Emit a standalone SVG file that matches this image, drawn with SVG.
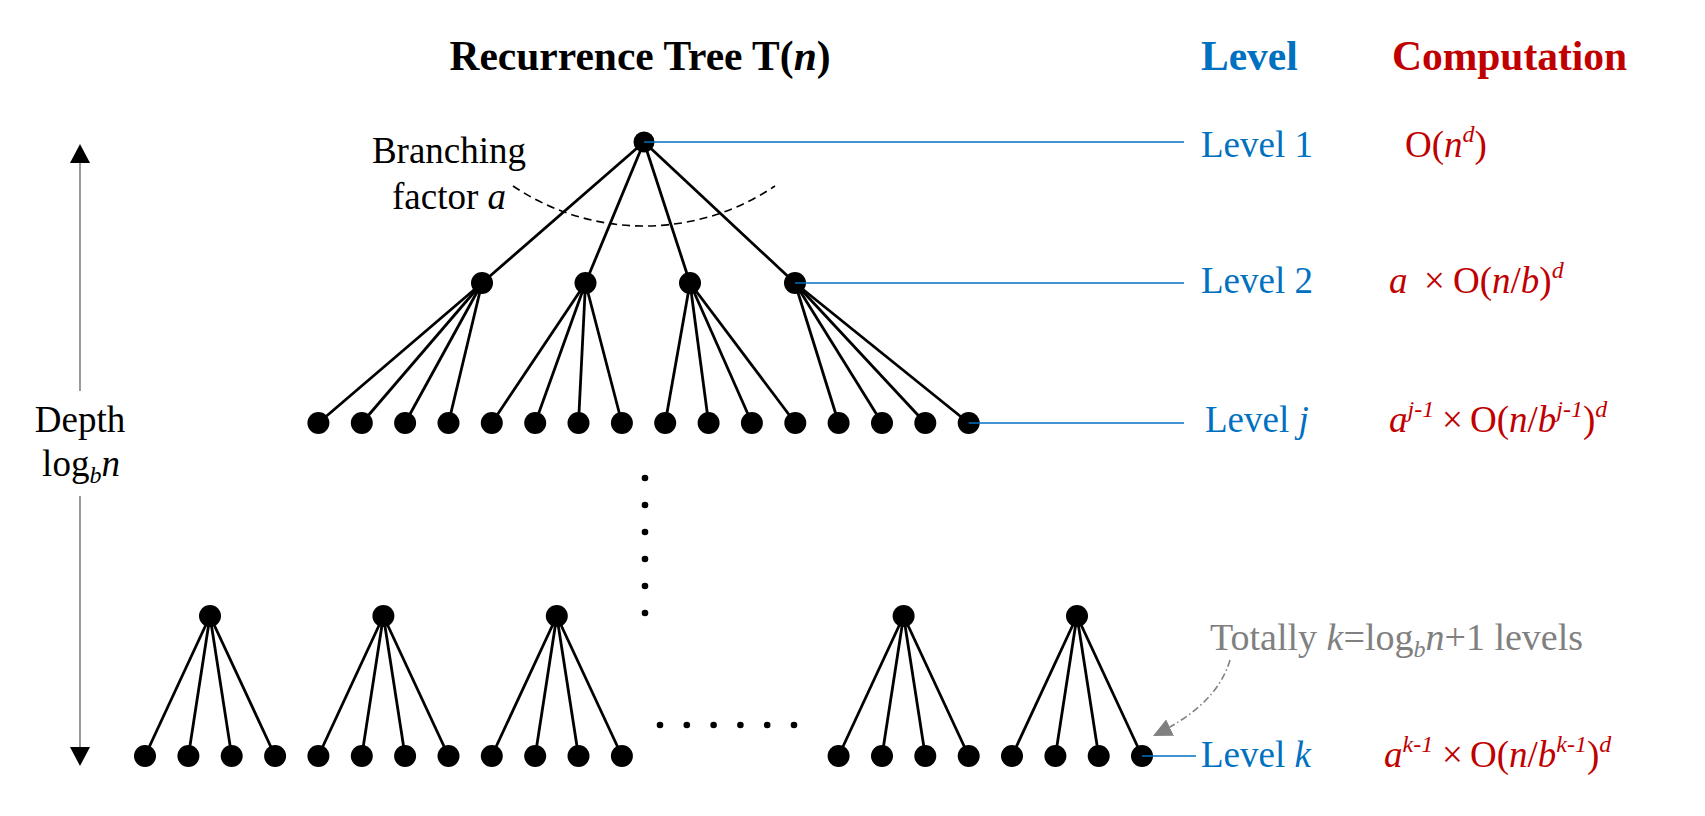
<svg xmlns="http://www.w3.org/2000/svg" width="1705" height="816" viewBox="0 0 1705 816">
<defs>
<style>
.t{font-family:"Liberation Serif","Times New Roman",serif;font-size:37px;}
.h{font-family:"Liberation Serif","Times New Roman",serif;font-size:41.5px;font-weight:bold;}
.i{font-style:italic;}
.blue{fill:#0070C0;}
.red{fill:#C00000;}
.gray{fill:#808080;}
.edge{stroke:#000;stroke-width:2.8;fill:none;}
.nd{fill:#000;}
.lvl{stroke:#0070C0;stroke-width:1.5;fill:none;}
.sup{font-size:24px;font-style:italic;}
.sub{font-size:24px;font-style:italic;}
</style>
<marker id="garrow" viewBox="0 0 20 20" refX="19" refY="10" markerWidth="20" markerHeight="20" markerUnits="userSpaceOnUse" orient="auto">
<path d="M0,1 L19,10 L0,19 Z" fill="#808080"/>
</marker>
</defs>
<rect width="1705" height="816" fill="#fff"/>

<g id="title">
<text class="h" x="640" y="70" text-anchor="middle">Recurrence Tree T(<tspan class="i">n</tspan>)</text>
</g>
<g id="header-level"><text class="h blue" x="1201" y="70">Level</text></g>
<g id="header-computation"><text class="h red" x="1392" y="70">Computation</text></g>

<g id="connectors">
<line class="edge" x1="644" y1="142" x2="482" y2="283"/>
<line class="edge" x1="644" y1="142" x2="585.5" y2="283"/>
<line class="edge" x1="644" y1="142" x2="690" y2="283"/>
<line class="edge" x1="644" y1="142" x2="795" y2="283"/>
<line class="edge" x1="482" y1="283" x2="318.4" y2="423"/>
<line class="edge" x1="482" y1="283" x2="361.8" y2="423"/>
<line class="edge" x1="482" y1="283" x2="405.1" y2="423"/>
<line class="edge" x1="482" y1="283" x2="448.5" y2="423"/>
<line class="edge" x1="585.5" y1="283" x2="491.8" y2="423"/>
<line class="edge" x1="585.5" y1="283" x2="535.2" y2="423"/>
<line class="edge" x1="585.5" y1="283" x2="578.5" y2="423"/>
<line class="edge" x1="585.5" y1="283" x2="621.9" y2="423"/>
<line class="edge" x1="690" y1="283" x2="665.2" y2="423"/>
<line class="edge" x1="690" y1="283" x2="708.6" y2="423"/>
<line class="edge" x1="690" y1="283" x2="751.9" y2="423"/>
<line class="edge" x1="690" y1="283" x2="795.3" y2="423"/>
<line class="edge" x1="795" y1="283" x2="838.6" y2="423"/>
<line class="edge" x1="795" y1="283" x2="882" y2="423"/>
<line class="edge" x1="795" y1="283" x2="925.3" y2="423"/>
<line class="edge" x1="795" y1="283" x2="968.7" y2="423"/>
<line class="edge" x1="210" y1="616" x2="145" y2="756"/>
<line class="edge" x1="210" y1="616" x2="188.4" y2="756"/>
<line class="edge" x1="210" y1="616" x2="231.7" y2="756"/>
<line class="edge" x1="210" y1="616" x2="275.1" y2="756"/>
<line class="edge" x1="383.4" y1="616" x2="318.4" y2="756"/>
<line class="edge" x1="383.4" y1="616" x2="361.8" y2="756"/>
<line class="edge" x1="383.4" y1="616" x2="405.1" y2="756"/>
<line class="edge" x1="383.4" y1="616" x2="448.5" y2="756"/>
<line class="edge" x1="556.8" y1="616" x2="491.8" y2="756"/>
<line class="edge" x1="556.8" y1="616" x2="535.2" y2="756"/>
<line class="edge" x1="556.8" y1="616" x2="578.5" y2="756"/>
<line class="edge" x1="556.8" y1="616" x2="621.9" y2="756"/>
<line class="edge" x1="903.6" y1="616" x2="838.6" y2="756"/>
<line class="edge" x1="903.6" y1="616" x2="882" y2="756"/>
<line class="edge" x1="903.6" y1="616" x2="925.3" y2="756"/>
<line class="edge" x1="903.6" y1="616" x2="968.7" y2="756"/>
<line class="edge" x1="1077" y1="616" x2="1012" y2="756"/>
<line class="edge" x1="1077" y1="616" x2="1055.4" y2="756"/>
<line class="edge" x1="1077" y1="616" x2="1098.7" y2="756"/>
<line class="edge" x1="1077" y1="616" x2="1142" y2="756"/>
</g>

<g id="nodes">
<g id="n-root"><circle class="nd" cx="644" cy="142" r="10.5"/></g>
<g id="n-l2-1"><circle class="nd" cx="482" cy="283" r="11"/></g>
<g id="n-l2-2"><circle class="nd" cx="585.5" cy="283" r="11"/></g>
<g id="n-l2-3"><circle class="nd" cx="690" cy="283" r="11"/></g>
<g id="n-l2-4"><circle class="nd" cx="795" cy="283" r="11"/></g>
<g id="n-lj-1"><circle class="nd" cx="318.4" cy="423" r="11"/></g>
<g id="n-lj-2"><circle class="nd" cx="361.8" cy="423" r="11"/></g>
<g id="n-lj-3"><circle class="nd" cx="405.1" cy="423" r="11"/></g>
<g id="n-lj-4"><circle class="nd" cx="448.5" cy="423" r="11"/></g>
<g id="n-lj-5"><circle class="nd" cx="491.8" cy="423" r="11"/></g>
<g id="n-lj-6"><circle class="nd" cx="535.2" cy="423" r="11"/></g>
<g id="n-lj-7"><circle class="nd" cx="578.5" cy="423" r="11"/></g>
<g id="n-lj-8"><circle class="nd" cx="621.9" cy="423" r="11"/></g>
<g id="n-lj-9"><circle class="nd" cx="665.2" cy="423" r="11"/></g>
<g id="n-lj-10"><circle class="nd" cx="708.6" cy="423" r="11"/></g>
<g id="n-lj-11"><circle class="nd" cx="751.9" cy="423" r="11"/></g>
<g id="n-lj-12"><circle class="nd" cx="795.3" cy="423" r="11"/></g>
<g id="n-lj-13"><circle class="nd" cx="838.6" cy="423" r="11"/></g>
<g id="n-lj-14"><circle class="nd" cx="882" cy="423" r="11"/></g>
<g id="n-lj-15"><circle class="nd" cx="925.3" cy="423" r="11"/></g>
<g id="n-lj-16"><circle class="nd" cx="968.7" cy="423" r="11"/></g>
<g id="n-b-r1"><circle class="nd" cx="210" cy="616" r="11"/></g>
<g id="n-b-r2"><circle class="nd" cx="383.4" cy="616" r="11"/></g>
<g id="n-b-r3"><circle class="nd" cx="556.8" cy="616" r="11"/></g>
<g id="n-b-r4"><circle class="nd" cx="903.6" cy="616" r="11"/></g>
<g id="n-b-r5"><circle class="nd" cx="1077" cy="616" r="11"/></g>
<g id="n-lk-1"><circle class="nd" cx="145" cy="756" r="11"/></g>
<g id="n-lk-2"><circle class="nd" cx="188.4" cy="756" r="11"/></g>
<g id="n-lk-3"><circle class="nd" cx="231.7" cy="756" r="11"/></g>
<g id="n-lk-4"><circle class="nd" cx="275.1" cy="756" r="11"/></g>
<g id="n-lk-5"><circle class="nd" cx="318.4" cy="756" r="11"/></g>
<g id="n-lk-6"><circle class="nd" cx="361.8" cy="756" r="11"/></g>
<g id="n-lk-7"><circle class="nd" cx="405.1" cy="756" r="11"/></g>
<g id="n-lk-8"><circle class="nd" cx="448.5" cy="756" r="11"/></g>
<g id="n-lk-9"><circle class="nd" cx="491.8" cy="756" r="11"/></g>
<g id="n-lk-10"><circle class="nd" cx="535.2" cy="756" r="11"/></g>
<g id="n-lk-11"><circle class="nd" cx="578.5" cy="756" r="11"/></g>
<g id="n-lk-12"><circle class="nd" cx="621.9" cy="756" r="11"/></g>
<g id="n-lk-13"><circle class="nd" cx="838.6" cy="756" r="11"/></g>
<g id="n-lk-14"><circle class="nd" cx="882" cy="756" r="11"/></g>
<g id="n-lk-15"><circle class="nd" cx="925.3" cy="756" r="11"/></g>
<g id="n-lk-16"><circle class="nd" cx="968.7" cy="756" r="11"/></g>
<g id="n-lk-17"><circle class="nd" cx="1012" cy="756" r="11"/></g>
<g id="n-lk-18"><circle class="nd" cx="1055.4" cy="756" r="11"/></g>
<g id="n-lk-19"><circle class="nd" cx="1098.7" cy="756" r="11"/></g>
<g id="n-lk-20"><circle class="nd" cx="1142" cy="756" r="11"/></g>
</g>

<g id="ellipsis">
<circle class="nd" cx="645" cy="478" r="3.3"/>
<circle class="nd" cx="645" cy="505" r="3.3"/>
<circle class="nd" cx="645" cy="532" r="3.3"/>
<circle class="nd" cx="645" cy="559" r="3.3"/>
<circle class="nd" cx="645" cy="586" r="3.3"/>
<circle class="nd" cx="645" cy="613" r="3.3"/>
<circle class="nd" cx="660" cy="725" r="3.3"/>
<circle class="nd" cx="686.8" cy="725" r="3.3"/>
<circle class="nd" cx="713.6" cy="725" r="3.3"/>
<circle class="nd" cx="740.4" cy="725" r="3.3"/>
<circle class="nd" cx="767.2" cy="725" r="3.3"/>
<circle class="nd" cx="794" cy="725" r="3.3"/>
</g>

<g id="level-lines">
<line class="lvl" x1="644" y1="142" x2="1184" y2="142"/>
<line class="lvl" x1="795" y1="283" x2="1184" y2="283"/>
<line class="lvl" x1="968.7" y1="423" x2="1184" y2="423"/>
<line class="lvl" x1="1142" y1="756" x2="1196" y2="756"/>
</g>

<g id="branching">
<path d="M513,186 A234.5,234.5 0 0 0 775,186" fill="none" stroke="#000" stroke-width="1.6" stroke-dasharray="8 5"/>
<text class="t" x="449" y="163" text-anchor="middle">Branching</text>
<text class="t" x="449" y="209" text-anchor="middle">factor <tspan class="i">a</tspan></text>
</g>

<g id="depth">
<line x1="80" y1="162" x2="80" y2="391" stroke="#808080" stroke-width="1.6"/>
<line x1="80" y1="496" x2="80" y2="748" stroke="#808080" stroke-width="1.6"/>
<path d="M80,144 L70,163 L90,163 Z" fill="#000"/>
<path d="M80,766 L70,747 L90,747 Z" fill="#000"/>
<text class="t" x="80" y="432" text-anchor="middle">Depth</text>
<text class="t" x="81" y="476" text-anchor="middle">log<tspan class="sub" dy="7">b</tspan><tspan class="i" dy="-7">n</tspan></text>
</g>

<g id="level-1"><text class="t blue" x="1201" y="157">Level 1</text></g>
<g id="level-2"><text class="t blue" x="1201" y="293">Level 2</text></g>
<g id="level-j"><text class="t blue" x="1205" y="432">Level <tspan class="i">j</tspan></text></g>
<g id="level-k"><text class="t blue" x="1201" y="767">Level <tspan class="i">k</tspan></text></g>

<g id="comp-1"><text class="t red" x="1405" y="157">O(<tspan class="i">n</tspan><tspan class="sup" dy="-15">d</tspan><tspan dy="15">)</tspan></text></g>
<g id="comp-2"><text class="t red" x="1389" y="293"><tspan class="i">a</tspan><tspan x="1424">×</tspan><tspan x="1453">O(</tspan><tspan class="i">n</tspan>/<tspan class="i">b</tspan>)<tspan class="sup" dy="-15">d</tspan></text></g>
<g id="comp-j"><text class="t red" x="1389" y="432"><tspan class="i">a</tspan><tspan class="sup" dy="-15">j-1</tspan><tspan dy="15" x="1442">×</tspan><tspan x="1470">O(</tspan><tspan class="i">n</tspan>/<tspan class="i">b</tspan><tspan class="sup" dy="-15">j-1</tspan><tspan dy="15">)</tspan><tspan class="sup" dy="-15">d</tspan></text></g>
<g id="comp-k"><text class="t red" x="1384" y="767"><tspan class="i">a</tspan><tspan class="sup" dy="-15">k-1</tspan><tspan dy="15" x="1442">×</tspan><tspan x="1470">O(</tspan><tspan class="i">n</tspan>/<tspan class="i">b</tspan><tspan class="sup" dy="-15">k-1</tspan><tspan dy="15">)</tspan><tspan class="sup" dy="-15">d</tspan></text></g>

<g id="total-note">
<text class="t gray" x="1210" y="650" style="font-size:38px">Totally <tspan class="i">k</tspan>=log<tspan class="sub" dy="7">b</tspan><tspan class="i" dy="-7">n</tspan>+1 levels</text>
<path d="M1230,660 C1221,690 1198,714 1153,736" fill="none" stroke="#808080" stroke-width="1.6" stroke-dasharray="7 3 1.5 3" marker-end="url(#garrow)"/>
</g>
</svg>
